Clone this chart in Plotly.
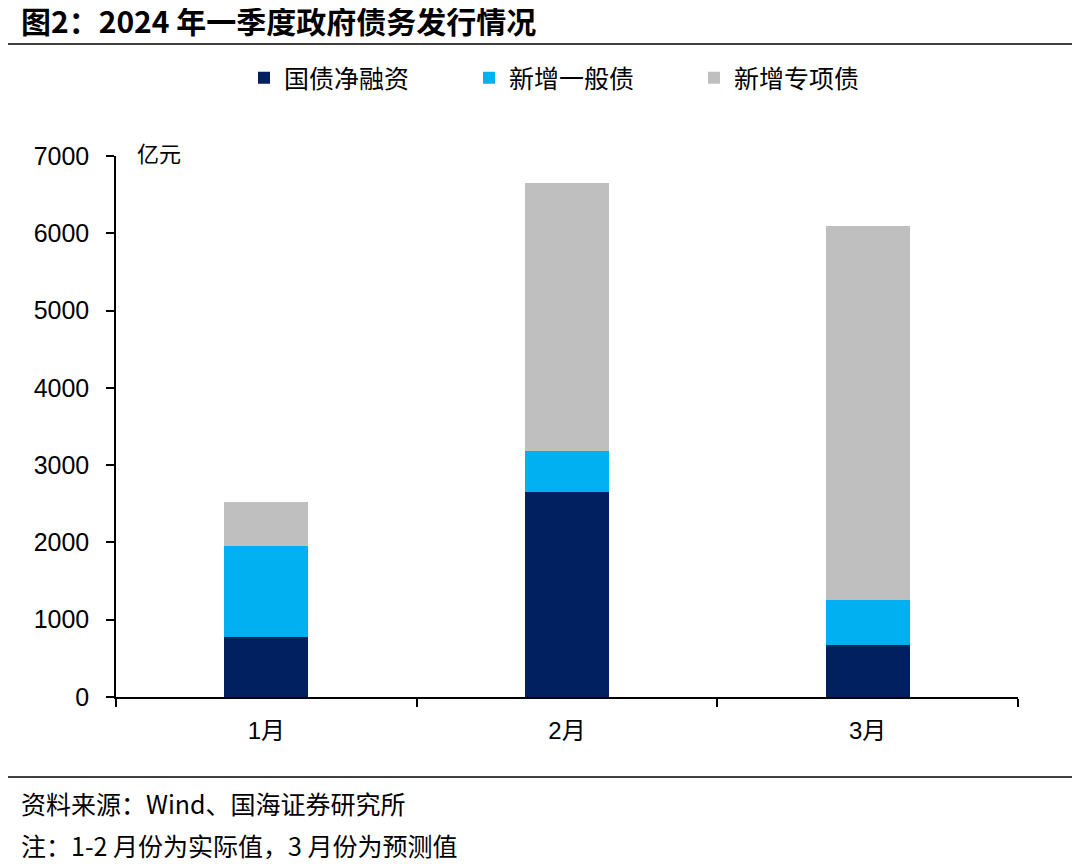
import plotly.graph_objects as go

months = ["1月", "2月", "3月"]
guozhai = [770, 2650, 670]
yiban = [1180, 530, 580]
zhuanxiang = [570, 3470, 4840]
series_names = ["国债净融资", "新增一般债", "新增专项债"]
colors = ["#002060", "#00B0F0", "#BFBFBF"]
yticks = [0, 1000, 2000, 3000, 4000, 5000, 6000, 7000]

# page body has an 8px margin; size figure so it fits the 1080x864 window
OFF = 8
W, H = 1080 - OFF, 864 - OFF
FONT = "Liberation Sans, Arial, Noto Sans CJK SC"
CJK = "Noto Sans CJK SC"


def px(x):
    return (x - OFF) / W


def py(y):
    return (H - (y - OFF)) / H


fig = go.Figure()
for name, vals, c in zip(series_names, [guozhai, yiban, zhuanxiang], colors):
    fig.add_trace(go.Bar(x=months, y=vals, name=name, marker=dict(color=c, line=dict(width=0)), width=0.28))

fig.update_layout(
    width=W, height=H,
    barmode="stack",
    paper_bgcolor="white", plot_bgcolor="white",
    margin=dict(l=0, r=0, t=0, b=0, pad=0, autoexpand=False),
    font=dict(family=FONT, size=24, color="black"),
    showlegend=True,
    legend=dict(orientation="h", x=px(244), xanchor="left", y=py(78), yanchor="middle",
                font=dict(size=25, family=CJK), itemwidth=30, tracegroupgap=0,
                traceorder="normal", entrywidth=180, itemsizing="constant"),
    xaxis=dict(domain=[px(116), px(1018)], range=[-0.5, 2.5], showline=True, linecolor="black", linewidth=1.5,
               ticks="outside", tickson="boundaries", ticklen=8, tickcolor="black", tickwidth=1.5,
               showgrid=False, tickfont=dict(size=24, family=FONT), automargin=False, ticklabelstandoff=11),
    yaxis=dict(domain=[py(697), py(156)], range=[0, 7000], tickvals=yticks, showline=True, linecolor="black",
               linewidth=1.5, ticks="outside", ticklen=8, tickcolor="black", tickwidth=1.5,
               showgrid=False, zeroline=False, tickfont=dict(size=25, family=FONT), automargin=False,
               ticklabelstandoff=12),
)

fig.add_annotation(x=px(20), y=py(20), xref="paper", yref="paper", xanchor="left", yanchor="middle",
                   text="<b>图2：2024 年一季度政府债务发行情况</b>", showarrow=False, borderpad=0,
                   font=dict(size=30, family=CJK, color="black"))
fig.add_annotation(x=px(135), y=py(152), xref="paper", yref="paper", xanchor="left", yanchor="middle",
                   text="亿元", showarrow=False, font=dict(size=22, family=CJK))
fig.add_annotation(x=px(20), y=py(803), xref="paper", yref="paper", xanchor="left", yanchor="middle",
                   text="资料来源：Wind、国海证券研究所", showarrow=False, borderpad=0,
                   font=dict(size=25, family=CJK))
fig.add_annotation(x=px(20), y=0, xref="paper", yref="paper", xanchor="left", yanchor="bottom",
                   text="注：1-2 月份为实际值，3 月份为预测值", showarrow=False, borderpad=0,
                   font=dict(size=25, family=CJK))

fig.add_shape(type="line", xref="paper", yref="paper", x0=0, x1=1, y0=py(44), y1=py(44),
              line=dict(color="black", width=1.5))
fig.add_shape(type="line", xref="paper", yref="paper", x0=0, x1=1, y0=py(777), y1=py(777),
              line=dict(color="black", width=1.5))

fig.write_html("out.html")
